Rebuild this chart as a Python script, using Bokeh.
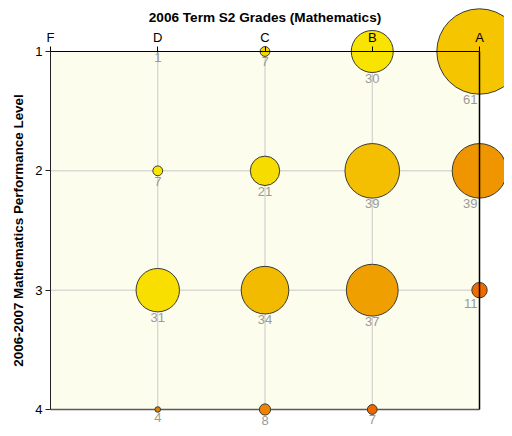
import math
from bokeh.plotting import figure
from bokeh.models import LinearAxis, FixedTicker, Range1d, BoxAnnotation, Label, ColumnDataSource
from bokeh.embed import file_html
from bokeh.resources import INLINE
from bokeh.core.properties import value

# ---- data ----
grades = ["F", "D", "C", "B", "A"]
levels = [1, 2, 3, 4]
title = "2006 Term S2 Grades (Mathematics)"
ylabel = "2006-2007 Mathematics Performance Level"

bubble_grade = ["D", "C", "B", "A", "D", "C", "B", "A", "D", "C", "B", "A", "D", "C", "B"]
bubble_level = [1, 1, 1, 1, 2, 2, 2, 2, 3, 3, 3, 3, 4, 4, 4]
bubble_count = [1, 7, 30, 61, 7, 21, 39, 39, 31, 34, 37, 11, 4, 8, 7]

# ---- styles ----
bubble_color = ["#f5dc00", "#f3d800", "#f9e300", "#f5c600",
                "#fbe800", "#f7dc00", "#f3bf00", "#ef9500",
                "#f8df00", "#f2bb00", "#ef9f00", "#f06a00",
                "#d98200", "#ef8200", "#ee6600"]
SIZE_PER_COUNT = 1.4
FONT = "Liberation Sans"

# ---- layout (pixels inside the figure) ----
W, H = 504, 428
BOX_L, BOX_R, BOX_T, BOX_B = 50, 479, 51, 409
nx = len(grades) - 1
ny = levels[-1] - levels[0]
ppx = (BOX_R - BOX_L) / nx
ppy = (BOX_B - BOX_T) / ny
x0 = -BOX_L / ppx
x1 = nx + (W - BOX_R) / ppx
y_top = levels[0] - BOX_T / ppy
y_bot = levels[-1] + (H - BOX_B) / ppy

p = figure(width=W, height=H, x_range=Range1d(x0, x1), y_range=Range1d(y_bot, y_top),
           x_axis_location=None, y_axis_location=None, toolbar_location=None,
           output_backend="svg", min_border=0, outline_line_color=None,
           background_fill_color="white", border_fill_color="white")
p.xgrid.visible = False
p.ygrid.visible = False

# plot box background
p.add_layout(BoxAnnotation(left=0, right=nx, top=levels[0], bottom=levels[-1],
                           fill_color="#fdfdee", fill_alpha=1, line_color=None,
                           level="underlay"))

# grid lines
inner_x = list(range(1, nx))
p.segment(x0=inner_x, y0=[levels[0]] * len(inner_x), x1=inner_x, y1=[levels[-1]] * len(inner_x),
          line_color="#c8c8c8", line_width=1)
inner_y = levels[1:-1]
p.segment(x0=[0] * len(inner_y), y0=inner_y, x1=[nx] * len(inner_y), y1=inner_y,
          line_color="#c8c8c8", line_width=1)
# bottom border (under bubbles)
p.segment(x0=[0], y0=[levels[-1]], x1=[nx], y1=[levels[-1]], line_color="#5a5a5a", line_width=1.5)

xs = [grades.index(g) for g in bubble_grade]
sizes = [c * SIZE_PER_COUNT for c in bubble_count]
is_last = [g == grades[-1] for g in bubble_grade]
src = ColumnDataSource(dict(
    x=xs, y=bubble_level, size=sizes, color=bubble_color,
    label=[str(c) for c in bubble_count],
    yoff=[s / 2 + 1 for s in sizes],
    xoff=[-2 if last else 0 for last in is_last],
    align=["right" if last else "center" for last in is_last],
))

p.scatter(x="x", y="y", size="size", fill_color="color", line_color="#3a3a30",
          line_width=1, source=src)
p.text(x="x", y="y", text="label", x_offset="xoff", y_offset="yoff", text_align="align",
       text_baseline="top", text_color="#9a9a9a", text_font=value(FONT),
       text_font_size="13px", source=src)

# right border (over bubbles)
p.segment(x0=[nx], y0=[levels[0]], x1=[nx], y1=[levels[-1]], line_color="black", line_width=1.5)

# axes
xa = LinearAxis(fixed_location=levels[0], bounds=(0, nx),
                ticker=FixedTicker(ticks=list(range(len(grades)))),
                major_label_overrides={i: g for i, g in enumerate(grades)},
                major_tick_out=5, major_tick_in=0, minor_tick_in=0, minor_tick_out=0,
                axis_line_color="black", major_tick_line_color="black",
                major_label_text_font=FONT, major_label_text_font_size="13px",
                major_label_text_color="black", major_label_standoff=2)
p.add_layout(xa, "above")
ya = LinearAxis(fixed_location=0, bounds=(levels[0], levels[-1]),
                ticker=FixedTicker(ticks=levels),
                major_tick_out=5, major_tick_in=0, minor_tick_in=0, minor_tick_out=0,
                axis_line_color="#222222", major_tick_line_color="#222222",
                major_label_text_font=FONT, major_label_text_font_size="13px",
                major_label_text_color="black", major_label_standoff=3)
p.add_layout(ya, "left")

p.add_layout(Label(x=nx / 2, y=y_top + 17 / ppy, text=title, text_align="center",
                   text_baseline="middle", text_font=FONT, text_font_style="bold",
                   text_font_size="13.6px", text_color="black"))
p.add_layout(Label(x=x0 + 18 / ppx, y=(levels[0] + levels[-1]) / 2, text=ylabel,
                   angle=math.pi / 2, text_align="center", text_baseline="middle",
                   text_font=FONT, text_font_style="bold", text_font_size="13.4px",
                   text_color="black"))

open("out.html", "w").write(file_html(p, INLINE))
